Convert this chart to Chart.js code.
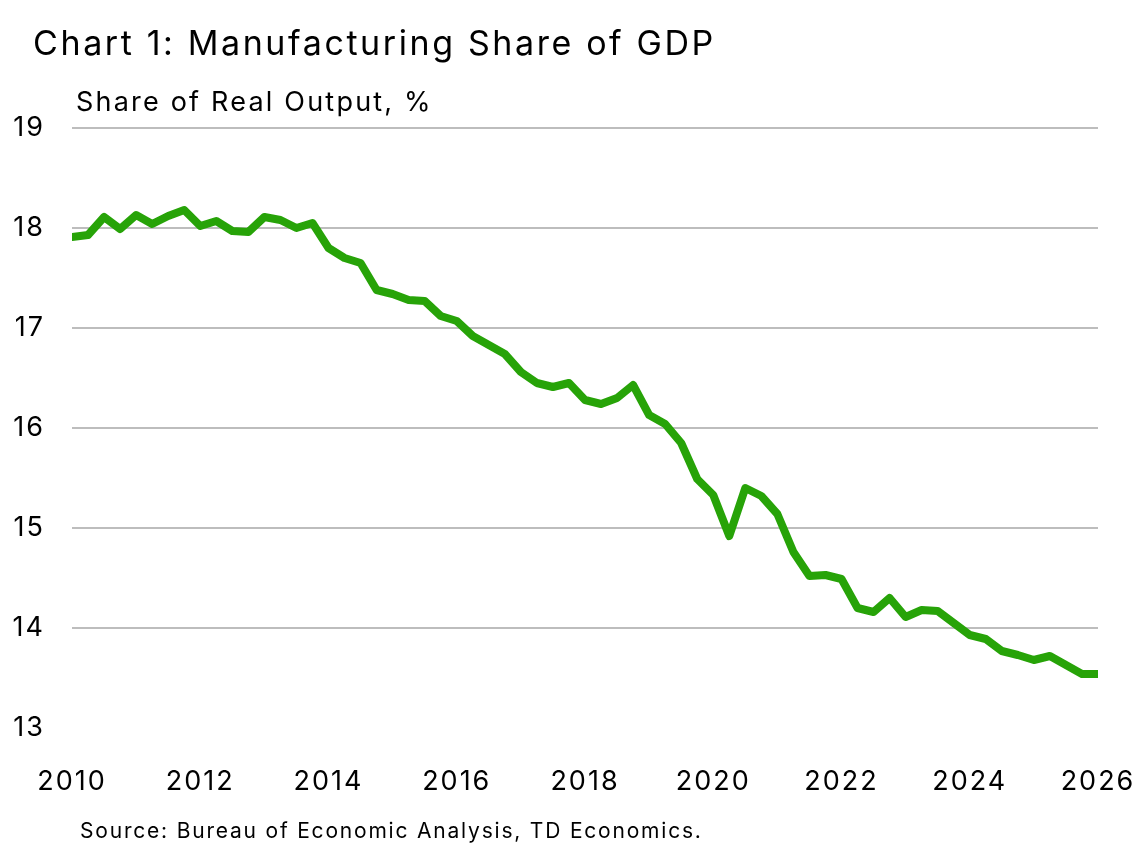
<!DOCTYPE html>
<html>
<head>
<meta charset="utf-8">
<script src="https://cdn.jsdelivr.net/npm/chart.js@4"></script>
<style>
  body { margin: 0; background: #fff; font-family: Inter, "Noto Sans", sans-serif; }
  #wrap { position: relative; width: 1139px; height: 851px; }
  #chart { position: absolute; left: 0; top: 0; }
  .txt { position: absolute; color: #000; white-space: nowrap; }
  #title { left: 33px; top: 22px; font-size: 34px; letter-spacing: 2.6px; }
  #sub { left: 76px; top: 85px; font-size: 27px; letter-spacing: 2.2px; }
  #src { left: 80px; top: 818px; font-size: 21px; letter-spacing: 1.8px; }
</style>
</head>
<body>
<div id="wrap">
  <canvas id="chart" width="1139" height="851"></canvas>
  <div class="txt" id="title">Chart 1: Manufacturing Share of GDP</div>
  <div class="txt" id="sub">Share of Real Output, %</div>
  <div class="txt" id="src">Source: Bureau of Economic Analysis, TD Economics.</div>
</div>
<script>
// quarterly, 2010Q1 .. 2026Q1
const startYear = 2010;
const share = [
  17.91, 17.93, 18.11, 17.99,
  18.13, 18.04, 18.12, 18.18,
  18.02, 18.07, 17.97, 17.96,
  18.11, 18.08, 18.00, 18.05,
  17.80, 17.70, 17.65, 17.38,
  17.34, 17.28, 17.27, 17.12,
  17.07, 16.92, 16.83, 16.74,
  16.56, 16.45, 16.41, 16.45,
  16.28, 16.24, 16.30, 16.43,
  16.13, 16.04, 15.85, 15.49,
  15.33, 14.92, 15.40, 15.32,
  15.14, 14.76, 14.52, 14.53,
  14.49, 14.20, 14.16, 14.30,
  14.11, 14.18, 14.17, 14.05,
  13.93, 13.89, 13.77, 13.73,
  13.68, 13.72, 13.63, 13.54,
  13.54
];
const yTicks = [13, 14, 15, 16, 17, 18, 19];
const xTicks = [2010, 2012, 2014, 2016, 2018, 2020, 2022, 2024, 2026];

const points = share.map((v, i) => ({ x: startYear + i / 4, y: v }));

const spacing = {
  id: "spacing",
  beforeDraw: c => { c.ctx.letterSpacing = "2px"; }
};

new Chart(document.getElementById("chart"), {
  type: "line",
  data: {
    datasets: [{
      data: points,
      borderColor: "#27a308",
      borderWidth: 8,
      pointRadius: 0,
      tension: 0,
      borderJoinStyle: "round",
      borderCapStyle: "round"
    }]
  },
  plugins: [spacing],
  options: {
    responsive: false,
    animation: false,
    layout: { padding: { top: 128, right: 41, left: 0, bottom: 0 } },
    plugins: { legend: { display: false }, tooltip: { enabled: false } },
    scales: {
      x: {
        type: "linear",
        min: xTicks[0],
        max: xTicks[xTicks.length - 1],
        afterBuildTicks: s => { s.ticks = xTicks.map(v => ({ value: v })); },
        afterFit: s => { s.height = 123; s.paddingRight = 0; s.paddingLeft = 0; },
        grid: { display: false },
        border: { display: false },
        ticks: {
          padding: 30,
          color: "#000",
          font: { family: "Inter", size: 27 },
          callback: v => String(v),
          maxRotation: 0
        }
      },
      y: {
        min: yTicks[0],
        max: yTicks[yTicks.length - 1],
        afterBuildTicks: s => { s.ticks = yTicks.map(v => ({ value: v })); },
        afterFit: s => { s.width = 72; },
        border: { display: false },
        grid: {
          drawTicks: false,
          lineWidth: 2,
          color: c => c.tick && c.tick.value === yTicks[0] ? "rgba(0,0,0,0)" : "#bdbdbd"
        },
        ticks: {
          padding: 27,
          color: "#000",
          font: { family: "Inter", size: 27 }
        }
      }
    }
  }
});
</script>
</body>
</html>
